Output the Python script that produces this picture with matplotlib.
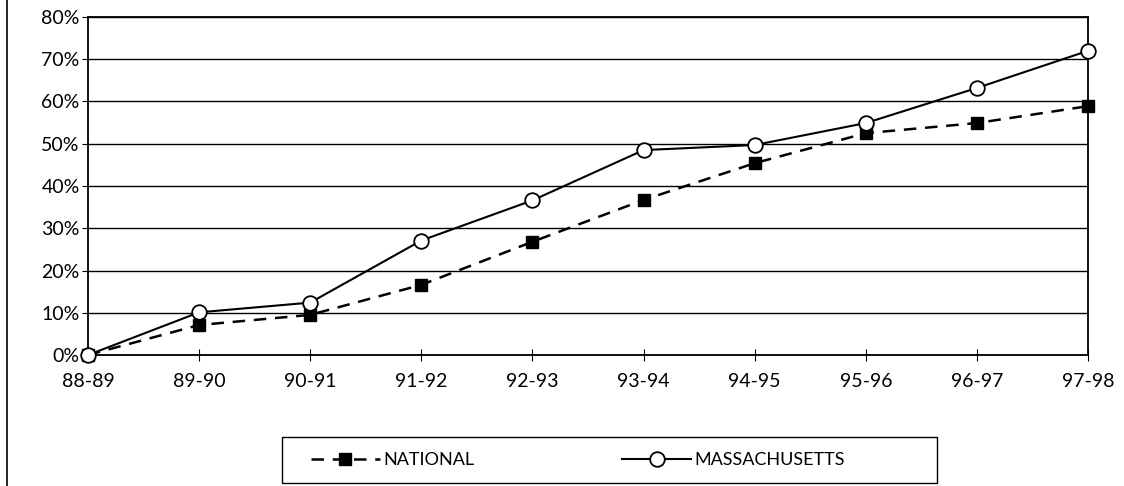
import matplotlib
matplotlib.use("Agg")
import matplotlib.pyplot as plt
from matplotlib.lines import Line2D
from matplotlib.patches import Rectangle
from matplotlib.ticker import PercentFormatter

years = ["88-89", "89-90", "90-91", "91-92", "92-93", "93-94", "94-95", "95-96", "96-97", "97-98"]
national = [0, 7.1, 9.5, 16.6, 26.8, 36.7, 45.4, 52.5, 54.9, 58.9]
massachusetts = [0, 10.1, 12.4, 27.1, 36.6, 48.5, 49.7, 54.9, 63.2, 72.0]

plt.rcParams['font.family'] = ['Lato', 'DejaVu Sans']

fig = plt.figure(figsize=(11.24, 4.86), dpi=100)
ax = fig.add_axes([88/1124, 1-355/486, 1000/1124, 338/486])

x = list(range(len(years)))
ax.plot(x, national, color="black", linestyle=(0, (5, 3.5)), linewidth=1.8,
        marker="s", markersize=9, markerfacecolor="black", markeredgecolor="black",
        label="NATIONAL", zorder=3, clip_on=False)
ax.plot(x, massachusetts, color="black", linestyle="-", linewidth=1.5,
        marker="o", markersize=10.5, markerfacecolor="white", markeredgecolor="black",
        markeredgewidth=1.3, label="MASSACHUSETTS", zorder=4, clip_on=False)

ax.set_xlim(0, len(years) - 1)
ax.set_ylim(0, 80)
ax.set_yticks(range(0, 81, 10))
ax.yaxis.set_major_formatter(PercentFormatter(decimals=0))
ax.set_xticks(x)
ax.set_xticklabels(years)
ax.grid(axis="y", color="black", linewidth=1.0)
ax.set_axisbelow(True)
for s in ax.spines.values():
    s.set_color("black")
    s.set_linewidth(1.3)
ax.tick_params(axis="x", direction="inout", length=8, width=0.8, labelsize=14, pad=9)
ax.tick_params(axis="y", direction="out", length=4, width=0.8, labelsize=14, pad=2)

# legend entries, with the box drawn separately
leg = fig.legend(loc="center",
                 bbox_to_anchor=(578/1124, 1-460/486),
                 ncol=2, frameon=False, fontsize=13,
                 handlelength=3.8, handletextpad=0.2, columnspacing=8.2,
                 borderpad=0.75, borderaxespad=0)
fig.add_artist(Rectangle((282/1124, 1-483/486), 655/1124, 46/486, fill=False,
                         edgecolor="black", linewidth=1.0, transform=fig.transFigure))

# page border line on the left
fig.add_artist(Line2D([7/1124, 7/1124], [0, 1], color="black", linewidth=1.2,
                      transform=fig.transFigure))

fig.savefig("out.png", dpi=100)
